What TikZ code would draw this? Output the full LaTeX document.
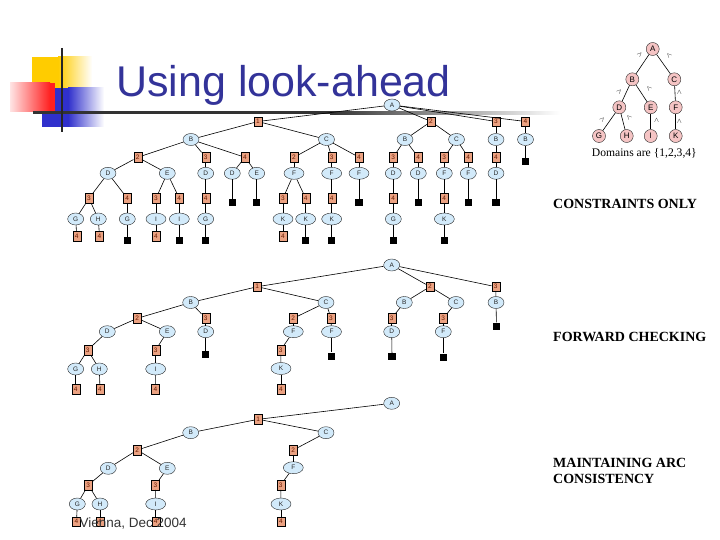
\documentclass[tikz,border=0pt]{standalone}
\usepackage{fontspec}
\setmainfont{Liberation Serif}
\setsansfont{Liberation Sans}
\usetikzlibrary{shapes.geometric}
\definecolor{vblue}{HTML}{D2EAFA}
\definecolor{salmon}{HTML}{EBA282}
\definecolor{pinkc}{HTML}{F5C4C4}
\definecolor{titleblue}{HTML}{333399}
\definecolor{numred}{HTML}{6A1A00}
\definecolor{decoyellow}{HTML}{FFCC00}
\definecolor{decoblue}{HTML}{3030CC}
\definecolor{decored}{HTML}{FF2020}
\tikzset{
  var/.style={ellipse, draw=black!85, fill=vblue, inner sep=0pt, minimum width=16pt, minimum height=12pt, text=black!85, font=\sffamily\fontsize{6.5}{6.5}\selectfont},
  wide/.style={minimum width=20pt},
  val/.style={rectangle, draw=black, fill=salmon, inner sep=0pt, minimum width=8pt, minimum height=9.5pt, text=numred, font=\sffamily\fontsize{6.5}{6.5}\selectfont},
  dead/.style={rectangle, fill=black, inner sep=0pt, minimum width=7.5pt, minimum height=7pt},
  gnode/.style={circle, draw=black!85, fill=pinkc, minimum size=13pt, inner sep=0pt, font=\sffamily\fontsize{8}{8}\selectfont},
  rel/.style={inner sep=0pt, font=\fontsize{6}{6}\selectfont},
  lbl/.style={anchor=base west, inner sep=0pt, font=\bfseries\fontsize{14}{16}\selectfont},
  edge/.style={draw=black, line width=0.6pt}
}
\begin{document}
\begin{tikzpicture}[x=1pt,y=-1pt]
\useasboundingbox (0,0) rectangle (720,540);
% decoration
\fill[decoyellow] (32,57) rectangle (58,90);
\shade[left color=decoyellow, right color=white] (58,57) rectangle (92,90);
\fill[decoblue] (42,88) rectangle (68,127);
\shade[left color=decoblue, right color=white] (68,88) rectangle (104,127);
\shade[left color=decored!12, right color=decored] (10,83) rectangle (50,112);
\fill[decored] (50,83) rectangle (55,112);
\fill[black!80] (33,111.2) rectangle (330,114.2);
\shade[left color=black!80, right color=white] (330,111.2) rectangle (560,114.2);
\draw[black!85, line width=2pt] (61.5,48) -- (61.5,132);
\node[anchor=base west, inner sep=0pt, text=titleblue, font=\sffamily\fontsize{43}{43}\selectfont] (title) at (116,96.7) {Using look-ahead};

% ===== Top tree: constraints only =====
\node[var] (tA) at (392,105) {A};
\node[val] (t1) at (258,121.5) {1};
\node[val] (t2) at (431,121.5) {2};
\node[val] (t3) at (496,121.5) {3};
\node[val] (t4) at (525.5,121.5) {4};
\node[var] (tB1) at (191,139.5) {B};
\node[var] (tC1) at (326.5,139.5) {C};
\node[var] (tB2) at (405,139.5) {B};
\node[var] (tC2) at (456.5,139.5) {C};
\node[var] (tB3) at (496,139.5) {B};
\node[var] (tB4) at (525.5,139.5) {B};
\node[val] (ta2) at (137.7,157.3) {2};
\node[val] (ta3) at (205.7,157.3) {3};
\node[val] (ta4) at (245,157.3) {4};
\node[var] (tD1) at (108,173.3) {D};
\node[var] (tE1) at (167.3,173.3) {E};
\node[var] (tD2) at (205.7,173.3) {D};
\node[var] (tD3) at (232.3,173.3) {D};
\node[var] (tE2) at (256.7,173.3) {E};
\node[dead] (tx1) at (232.3,203) {};
\node[dead] (tx2) at (256.7,203) {};
\node[val] (tb3) at (89,198.3) {3};
\node[val] (tb4) at (127.3,198.3) {4};
\node[val] (tc3) at (156,198.3) {3};
\node[val] (tc4) at (179.3,198.3) {4};
\node[val] (td4) at (205.7,198.3) {4};
\node[var] (tG1) at (75.7,219) {G};
\node[var] (tH1) at (98.3,219) {H};
\node[var] (tG2) at (127.3,219) {G};
\node[var,wide] (tI1) at (156,219) {I};
\node[var,wide] (tI2) at (179.3,219) {I};
\node[var] (tG3) at (205.7,219) {G};
\node[val] (tv1) at (76.7,236) {4};
\node[val] (tv2) at (99.5,236) {4};
\node[dead] (tx3) at (127.3,240.5) {};
\node[val] (tv3) at (156,236) {4};
\node[dead] (tx4) at (179.3,240.5) {};
\node[dead] (tx5) at (205.7,240.5) {};
\node[val] (te2) at (294,157.3) {2};
\node[val] (te3) at (331.7,157.3) {3};
\node[val] (te4) at (359,157.3) {4};
\node[var,wide] (tF1) at (294,173.3) {F};
\node[var,wide] (tF2) at (331.7,173.3) {F};
\node[var,wide] (tF3) at (359,173.3) {F};
\node[val] (tf3) at (283,198.3) {3};
\node[val] (tf4) at (305.7,198.3) {4};
\node[val] (tg4) at (331.7,198.3) {4};
\node[dead] (tx6) at (359,203) {};
\node[var,wide] (tK1) at (283,219) {K};
\node[var,wide] (tK2) at (305.7,219) {K};
\node[var,wide] (tK3) at (331.7,219) {K};
\node[val] (tv4) at (283,236) {4};
\node[dead] (tx7) at (305.7,240.5) {};
\node[dead] (tx8) at (331.7,240.5) {};
\node[val] (th3) at (393.3,157.3) {3};
\node[val] (th4) at (418.3,157.3) {4};
\node[var] (tD4) at (393.3,173.3) {D};
\node[var] (tD5) at (418.3,173.3) {D};
\node[val] (th5) at (393.3,198.3) {4};
\node[dead] (tx9) at (418.3,203) {};
\node[var] (tG4) at (393.3,219) {G};
\node[dead] (tx10) at (393.3,240.5) {};
\node[val] (ti3) at (444.3,157.3) {3};
\node[val] (ti4) at (468.3,157.3) {4};
\node[var] (tF4) at (444.3,173.3) {F};
\node[var] (tF5) at (468.3,173.3) {F};
\node[val] (ti5) at (444.3,198.3) {4};
\node[dead] (tx11) at (468.3,203) {};
\node[var,wide] (tK4) at (444.3,219) {K};
\node[dead] (tx12) at (444.3,240.5) {};
\node[val] (tj4) at (496,157.3) {4};
\node[var] (tD6) at (496,173.3) {D};
\node[dead] (tx13) at (496,203) {};
\node[dead] (tx14) at (525.5,161.5) {};
\foreach \a/\b in {tA/t1, tA/t2, tA/t3, tA/t4, t1/tB1, t1/tC1, t2/tB2, t2/tC2, t3/tB3, t4/tB4,
  tB1/ta2, tB1/ta3, tB1/ta4, ta2/tD1, ta2/tE1, ta3/tD2, ta4/tD3, ta4/tE2, tD3/tx1, tE2/tx2,
  tD1/tb3, tD1/tb4, tE1/tc3, tE1/tc4, tD2/td4, tb3/tG1, tb3/tH1, tb4/tG2, tc3/tI1, tc4/tI2, td4/tG3,
  tG1/tv1, tH1/tv2, tG2/tx3, tI1/tv3, tI2/tx4, tG3/tx5,
  tC1/te2, tC1/te3, tC1/te4, te2/tF1, te3/tF2, te4/tF3, tF1/tf3, tF1/tf4, tF2/tg4, tF3/tx6,
  tf3/tK1, tf4/tK2, tg4/tK3, tK1/tv4, tK2/tx7, tK3/tx8,
  tB2/th3, tB2/th4, th3/tD4, th4/tD5, tD4/th5, tD5/tx9, th5/tG4, tG4/tx10,
  tC2/ti3, tC2/ti4, ti3/tF4, ti4/tF5, tF4/ti5, tF5/tx11, ti5/tK4, tK4/tx12,
  tB3/tj4, tj4/tD6, tD6/tx13, tB4/tx14}
  \draw[edge] (\a) -- (\b);

% ===== Middle tree: forward checking =====
\node[var] (mA) at (391.7,265) {A};
\node[val] (m1) at (257.3,286.7) {1};
\node[val] (m2) at (430,286.7) {2};
\node[val] (m3) at (495.7,286.7) {3};
\node[var] (mB1) at (190.7,302.5) {B};
\node[var] (mC1) at (326,302.5) {C};
\node[var] (mB2) at (404.3,302.5) {B};
\node[var] (mC2) at (456,302.5) {C};
\node[var] (mB3) at (496,302.5) {B};
\node[val] (ma2) at (137.3,318.3) {2};
\node[val] (ma3) at (205.7,318.3) {3};
\node[var] (mD1) at (107.3,331.7) {D};
\node[var] (mE1) at (167.3,331.7) {E};
\node[var] (mD2) at (205.7,331.7) {D};
\node[dead] (mx1) at (205.7,354.5) {};
\node[val] (mb3) at (87.7,350) {3};
\node[val] (mc3) at (155.7,350) {3};
\node[var] (mG1) at (75.7,369) {G};
\node[var] (mH1) at (99.3,369) {H};
\node[var,wide] (mI1) at (155.7,369) {I};
\node[val] (mv1) at (75.7,389.3) {4};
\node[val] (mv2) at (100,389.3) {4};
\node[val] (mv3) at (155.5,389.3) {4};
\node[val] (me2) at (293.3,318.3) {2};
\node[val] (me3) at (331,318.3) {3};
\node[var,wide] (mF1) at (293.3,331.7) {F};
\node[var,wide] (mF2) at (331.5,331.7) {F};
\node[dead] (mx2) at (331.5,356) {};
\node[val] (mf3) at (280.7,350) {3};
\node[var,wide] (mK1) at (281,368.5) {K};
\node[val] (mv4) at (281,389.3) {4};
\node[val] (mh3) at (391.7,318.3) {3};
\node[var] (mD3) at (391.7,331.7) {D};
\node[dead] (mx3) at (392,356.5) {};
\node[val] (mi3) at (443.3,318.3) {3};
\node[var] (mF3) at (443.3,331.7) {F};
\node[dead] (mx4) at (443.3,357) {};
\node[dead] (mx5) at (496.5,326) {};
\foreach \a/\b in {mA/m1, mA/m2, mA/m3, m1/mB1, m1/mC1, m2/mB2, m2/mC2, m3/mB3,
  mB1/ma2, mB1/ma3, ma2/mD1, ma2/mE1, ma3/mD2, mD2/mx1, mD1/mb3, mE1/mc3,
  mb3/mG1, mb3/mH1, mc3/mI1, mG1/mv1, mH1/mv2, mI1/mv3,
  mC1/me2, mC1/me3, me2/mF1, me3/mF2, mF2/mx2, mF1/mf3, mf3/mK1, mK1/mv4,
  mB2/mh3, mh3/mD3, mD3/mx3, mC2/mi3, mi3/mF3, mF3/mx4, mB3/mx5}
  \draw[edge] (\a) -- (\b);

% ===== Bottom tree: maintaining arc consistency =====
\node[var] (bA) at (391.7,403.3) {A};
\node[val] (b1) at (258.3,419.3) {1};
\node[var] (bB) at (190.7,432.7) {B};
\node[var] (bC) at (326,432.7) {C};
\node[val] (ba2) at (137.3,450) {2};
\node[val] (be2) at (293.3,450) {2};
\node[var] (bD) at (108.3,468.3) {D};
\node[var] (bE) at (167.3,468.3) {E};
\node[var,wide] (bF) at (293.3,467.7) {F};
\node[val] (bb3) at (88.3,485) {3};
\node[val] (bc3) at (155.5,485) {3};
\node[val] (bf3) at (280.7,485) {3};
\node[var] (bG) at (77.3,504) {G};
\node[var] (bH) at (100,504) {H};
\node[var,wide] (bI) at (155.7,504) {I};
\node[var,wide] (bK) at (281,504) {K};
\node[val] (bv1) at (76.5,521.7) {4};
\node[val] (bv2) at (100,521.7) {4};
\node[val] (bv3) at (155.7,521.7) {4};
\node[val] (bv4) at (281,521.7) {4};
\foreach \a/\b in {bA/b1, b1/bB, b1/bC, bB/ba2, bC/be2, ba2/bD, ba2/bE, be2/bF,
  bD/bb3, bE/bc3, bF/bf3, bb3/bG, bb3/bH, bc3/bI, bf3/bK, bG/bv1, bH/bv2, bI/bv3, bK/bv4}
  \draw[edge] (\a) -- (\b);

% ===== Constraint graph =====
\node[gnode] (gA) at (652.7,49) {A};
\node[gnode] (gB) at (632.3,79.3) {B};
\node[gnode] (gC) at (674.3,79.3) {C};
\node[gnode] (gD) at (619.3,107.3) {D};
\node[gnode] (gE) at (650.7,107.3) {E};
\node[gnode] (gF) at (675.7,107.3) {F};
\node[gnode] (gG) at (599,136) {G};
\node[gnode] (gH) at (626.7,136) {H};
\node[gnode] (gI) at (650.7,136) {I};
\node[gnode] (gK) at (675.7,136) {K};
\foreach \a/\b in {gA/gB, gA/gC, gB/gD, gB/gE, gC/gF, gD/gG, gD/gH, gE/gI, gF/gK}
  \draw[edge] (\a) -- (\b);
\node[rel, rotate=-135] (r1) at (640,55) {$<$};
\node[rel, rotate=-45] (r2) at (669,55) {$<$};
\node[rel, rotate=-135] (r3) at (619.3,91.7) {$<$};
\node[rel, rotate=-45] (r4) at (649,88.3) {$<$};
\node[rel, rotate=-90] (r5) at (679.3,92.7) {$<$};
\node[rel, rotate=-135] (r6) at (602.3,119.3) {$<$};
\node[rel, rotate=-45] (r7) at (629,117.3) {$<$};
\node[rel, rotate=-90] (r8) at (656.7,120.7) {$<$};
\node[rel, rotate=-90] (r9) at (679.3,121) {$<$};
\node[anchor=base west, inner sep=0pt, font=\fontsize{11.6}{13}\selectfont] (dom) at (591.7,156.7) {Domains are \{1,2,3,4\}};

% ===== Labels =====
\node[lbl] (l1) at (553,208.5) {CONSTRAINTS ONLY};
\node[lbl] (l2) at (553,341) {FORWARD CHECKING};
\node[lbl] (l3) at (553,467) {MAINTAINING ARC};
\node[lbl] (l4) at (553,483.5) {CONSISTENCY};

% footer
\node[anchor=base west, inner sep=0pt, text=black!80, font=\sffamily\fontsize{13.5}{14}\selectfont] (foot) at (79.3,527) {Vienna, Dec 2004};
\end{tikzpicture}
\end{document}
